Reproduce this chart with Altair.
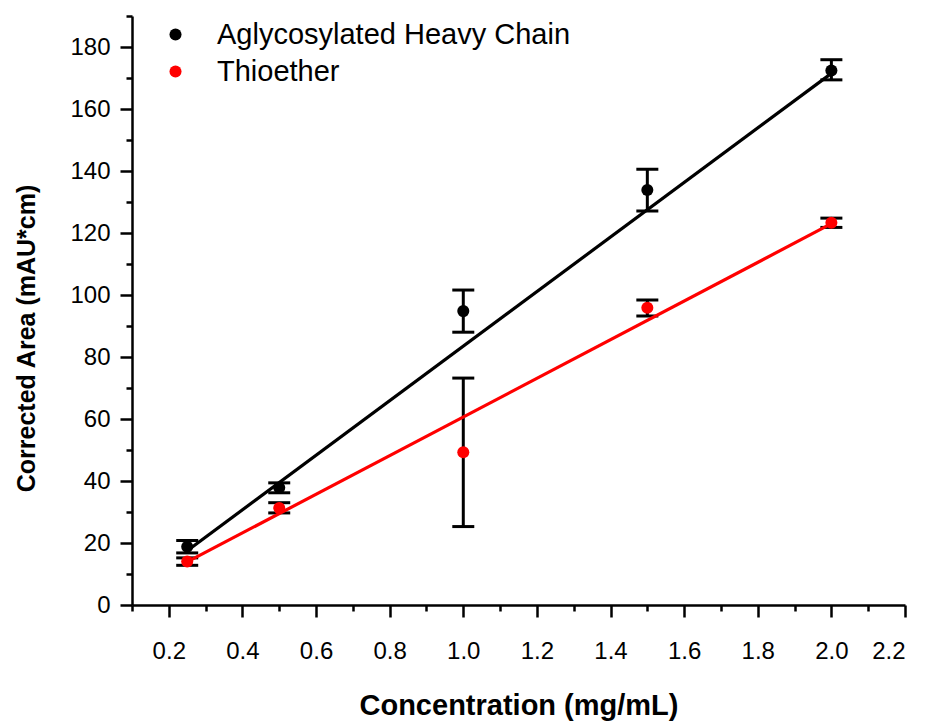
import altair as alt
import pandas as pd

# ---- data ----
conc = [0.25, 0.5, 1.0, 1.5, 2.0]
series_names = ["Aglycosylated Heavy Chain", "Thioether"]
series_colors = ["#000000", "#ff0000"]

agly_area = [18.8, 37.8, 94.8, 133.9, 172.4]
agly_lo = [16.8, 36.2, 88.0, 127.1, 169.4]
agly_hi = [20.8, 39.4, 101.6, 140.6, 175.9]

thio_area = [14.0, 31.3, 49.3, 95.9, 123.3]
thio_lo = [12.8, 29.7, 25.3, 93.2, 121.8]
thio_hi = [15.2, 33.0, 73.2, 98.4, 124.8]

fit_conc = [0.25, 2.0]
agly_fit = [17.5, 171.5]
thio_fit = [13.9, 123.0]

x_major = [0.2, 0.4, 0.6, 0.8, 1.0, 1.2, 1.4, 1.6, 1.8, 2.0, 2.2]
x_minor = [0.1, 0.3, 0.5, 0.7, 0.9, 1.1, 1.3, 1.5, 1.7, 1.9, 2.1]
y_major = [0, 20, 40, 60, 80, 100, 120, 140, 160, 180]
y_minor = [10, 30, 50, 70, 90, 110, 130, 150, 170, 190]

# ---- tables ----
rows = []
for name, ys, los, his in [
    (series_names[0], agly_area, agly_lo, agly_hi),
    (series_names[1], thio_area, thio_lo, thio_hi),
]:
    for c, y, lo, hi in zip(conc, ys, los, his):
        rows.append({"series": name, "conc": c, "area": y, "lo": lo, "hi": hi})
pts = pd.DataFrame(rows)

fit_rows = []
for name, ys in [(series_names[0], agly_fit), (series_names[1], thio_fit)]:
    for c, y in zip(fit_conc, ys):
        fit_rows.append({"series": name, "conc": c, "area": y})
fit = pd.DataFrame(fit_rows)

FONT = "Liberation Sans, Arial, sans-serif"

xscale = alt.Scale(domain=[0.1, 2.2], nice=False, zero=False)
yscale = alt.Scale(domain=[0, 190], nice=False, zero=False)
cscale = alt.Scale(domain=series_names, range=series_colors)

axis_common = dict(
    tickColor="black", tickWidth=2.5, grid=False,
    labelColor="black", titleColor="black",
)

x_major_axis = alt.Axis(
    values=x_major, format=".1f", orient="bottom", tickSize=12,
    domainColor="black", domainWidth=2.5,
    labelFont=FONT, labelFontSize=24, labelPadding=22,
    title="Concentration (mg/mL)", titleFont=FONT, titleFontSize=29,
    titleFontWeight="bold", titlePadding=28, **axis_common,
)
y_major_axis = alt.Axis(
    values=y_major, format="d", orient="left", tickSize=12,
    domainColor="black", domainWidth=2.5,
    labelFont=FONT, labelFontSize=24, labelPadding=10,
    title="Corrected Area (mAU*cm)", titleFont=FONT, titleFontSize=25,
    titleFontWeight="bold", titlePadding=30, titleY=322, **axis_common,
)
x_minor_axis = alt.Axis(
    values=x_minor, orient="bottom", tickSize=6, labels=False, title=None,
    domain=False, **axis_common,
)
y_minor_axis = alt.Axis(
    values=y_minor, orient="left", tickSize=6, labels=False, title=None,
    domain=False, **axis_common,
)

base = alt.Chart(pts)

bars = base.mark_rule(color="black", strokeWidth=3, opacity=1).encode(
    x=alt.X("conc:Q", scale=xscale, axis=x_major_axis),
    y=alt.Y("lo:Q", scale=yscale, axis=y_major_axis),
    y2="hi:Q",
)

cap_lo = base.mark_tick(color="black", thickness=3, size=22, orient="horizontal", opacity=1).encode(
    x=alt.X("conc:Q", scale=xscale, axis=x_minor_axis),
    y=alt.Y("lo:Q", scale=yscale, axis=y_minor_axis),
)
cap_hi = base.mark_tick(color="black", thickness=3, size=22, orient="horizontal", opacity=1).encode(
    x=alt.X("conc:Q", scale=xscale, axis=None),
    y=alt.Y("hi:Q", scale=yscale, axis=None),
)

line_layers = []
for name, col in zip(series_names, series_colors):
    line_layers.append(
        alt.Chart(fit).transform_filter(alt.datum.series == name)
        .mark_line(strokeWidth=3.2, color=col)
        .encode(
            x=alt.X("conc:Q", scale=xscale, axis=None),
            y=alt.Y("area:Q", scale=yscale, axis=None),
        )
    )

points = base.mark_circle(size=145, opacity=1).encode(
    x=alt.X("conc:Q", scale=xscale, axis=None),
    y=alt.Y("area:Q", scale=yscale, axis=None),
    color=alt.Color("series:N", scale=cscale, title=None),
)

chart = alt.layer(bars, cap_lo, cap_hi, *line_layers, points).resolve_axis(
    x="independent", y="independent"
).properties(
    width=773, height=589,
    autosize=alt.AutoSizeParams(type="none"),
    padding={"left": 132, "top": 16, "right": 26, "bottom": 116},
    background="white",
).configure_view(
    stroke=None
).configure_legend(
    orient="none", legendX=29, legendY=4, padding=0,
    symbolType="circle", symbolSize=145, symbolStrokeWidth=0,
    labelFont=FONT, labelFontSize=29, labelColor="black", labelLimit=0,
    labelOffset=27, rowPadding=7,
)

chart.save("out.html", embed_options={"renderer": "svg", "actions": False})
